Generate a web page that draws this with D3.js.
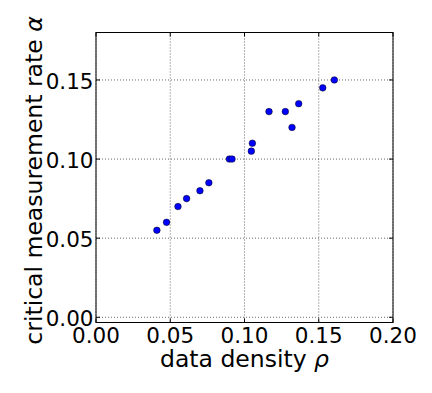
<!DOCTYPE html>
<html><head><meta charset="utf-8">
<script src="https://cdn.jsdelivr.net/npm/d3@7"></script>
<style>body{margin:0;background:#fff;} text{font-family:"DejaVu Sans",sans-serif;}</style>
</head><body>
<script>
const rho   = [0.041,0.0475,0.0552,0.061,0.070,0.076,0.0898,0.0916,0.1046,0.1053,0.1165,0.1275,0.132,0.1365,0.1527,0.1605];
const alpha = [0.055,0.060,0.070,0.075,0.080,0.085,0.100,0.100,0.105,0.110,0.130,0.130,0.120,0.135,0.145,0.150];
const xTicks = [0.00,0.05,0.10,0.15,0.20];
const yTicks = [0.00,0.05,0.10,0.15];
const xLabel = "data density ";
const yLabel = "critical measurement rate ";

const W=432,H=393, L=96,R=393,T=32.5,B=322.5;
const svg=d3.select("body").append("svg").attr("width",W).attr("height",H);
const x=d3.scaleLinear().domain([0,0.2]).range([L,R]);
const y=d3.scaleLinear().domain([-0.0033,0.18]).range([B,T]);

// grid
const g=svg.append("g");
g.selectAll(".vx").data(xTicks).join("line").attr("x1",d=>x(d)).attr("x2",d=>x(d)).attr("y1",T).attr("y2",B)
 .attr("stroke","#000").attr("stroke-width",0.6).attr("stroke-dasharray","1,2");
g.selectAll(".hy").data(yTicks).join("line").attr("y1",d=>y(d)).attr("y2",d=>y(d)).attr("x1",L).attr("x2",R)
 .attr("stroke","#000").attr("stroke-width",0.6).attr("stroke-dasharray","1,2");

// ticks inward, all four sides
const tl=4;
const tk=svg.append("g").attr("stroke","#000").attr("stroke-width",1);
xTicks.forEach(d=>{tk.append("line").attr("x1",x(d)).attr("x2",x(d)).attr("y1",B).attr("y2",B-tl);
  tk.append("line").attr("x1",x(d)).attr("x2",x(d)).attr("y1",T).attr("y2",T+tl);});
yTicks.forEach(d=>{tk.append("line").attr("y1",y(d)).attr("y2",y(d)).attr("x1",L).attr("x2",L+tl);
  tk.append("line").attr("y1",y(d)).attr("y2",y(d)).attr("x1",R).attr("x2",R-tl);});

// frame
svg.append("rect").attr("x",L).attr("y",T).attr("width",R-L).attr("height",B-T)
 .attr("fill","none").attr("stroke","#000").attr("stroke-width",1);

// tick labels
svg.selectAll(".xt").data(xTicks).join("text").attr("x",d=>x(d)).attr("y",342.5)
 .attr("text-anchor","middle").attr("font-size",21.5).text(d=>d.toFixed(2));
svg.selectAll(".yt").data(yTicks).join("text").attr("x",93.5).attr("y",d=>y(d)+8.8)
 .attr("text-anchor","end").attr("font-size",21.5).text(d=>d.toFixed(2));

// axis labels
const xl=svg.append("text").attr("x",(L+R)/2).attr("y",366.7).attr("text-anchor","middle").attr("font-size",23.5);
xl.append("tspan").text(xLabel);
xl.append("tspan").attr("font-style","italic").text("ρ");
const yl=svg.append("text").attr("transform",`translate(41.5,${(T+B)/2+3}) rotate(-90)`).attr("text-anchor","middle").attr("font-size",23.5);
yl.append("tspan").text(yLabel);
yl.append("tspan").attr("font-style","italic").text("α");

// points
svg.selectAll(".pt").data(rho.map((r,i)=>[r,alpha[i]])).join("circle")
 .attr("cx",d=>x(d[0])).attr("cy",d=>y(d[1])).attr("r",3.3)
 .attr("fill","#0000ff").attr("stroke","#000").attr("stroke-width",0.5);
</script>
</body></html>
